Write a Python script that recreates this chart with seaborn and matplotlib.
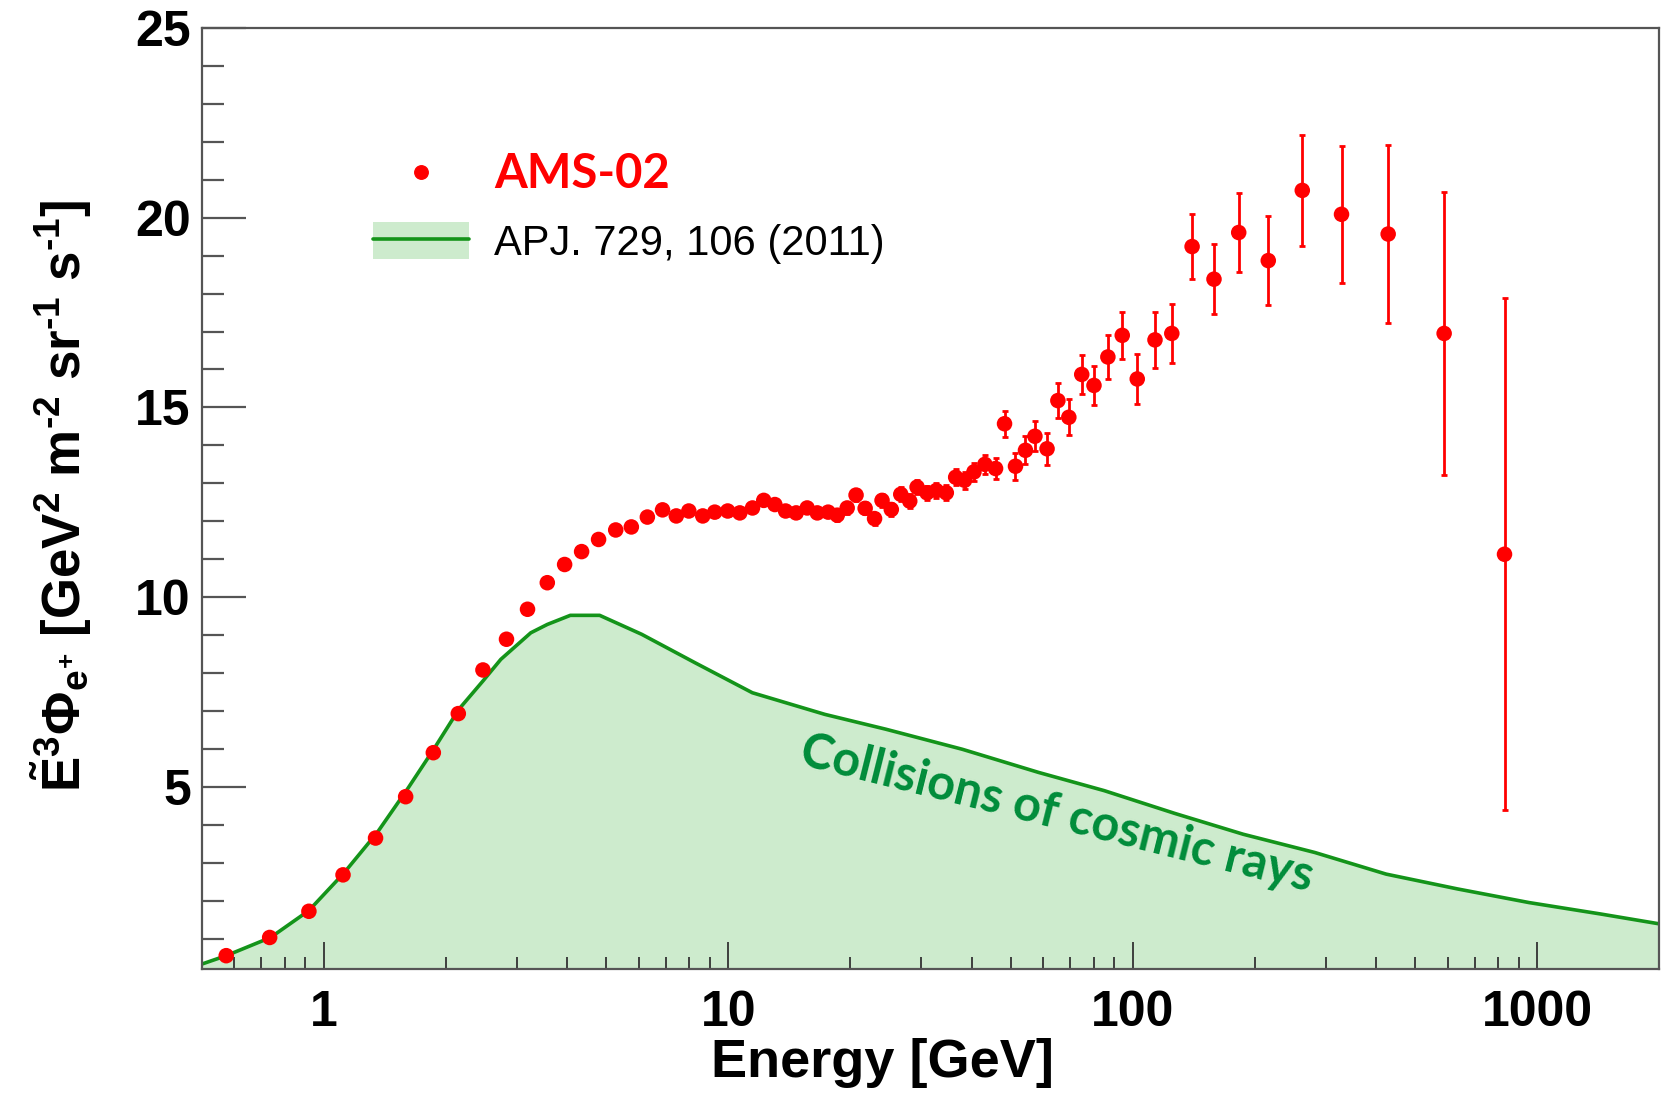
import numpy as np
import pandas as pd
import matplotlib
matplotlib.use("Agg")
import matplotlib.pyplot as plt
import seaborn as sns
from matplotlib.lines import Line2D
from matplotlib.patches import Patch
from matplotlib.ticker import FixedLocator, LogLocator, NullFormatter, FuncFormatter

# ---------------- data ----------------
ams_energy = [0.574, 0.735, 0.919, 1.116, 1.343, 1.594, 1.866, 2.151, 2.475, 2.83,
              3.19, 3.57, 3.94, 4.34, 4.78, 5.27, 5.76, 6.31, 6.88, 7.44,
              7.99, 8.65, 9.26, 9.97, 10.68, 11.48, 12.24, 13.04, 13.86, 14.72,
              15.67, 16.6, 17.66, 18.6, 19.68, 20.7, 21.8, 23.0, 24.0, 25.3,
              26.7, 28.1, 29.3, 31.0, 32.7, 34.6, 36.5, 38.4, 40.5, 43.1,
              45.8, 48.2, 51.3, 54.3, 57.3, 61.4, 65.3, 69.5, 74.8, 80.2,
              86.8, 94.2, 102.6, 113.5, 124.9, 140.2, 158.8, 182.8, 216.3, 262.5,
              328.2, 428.0, 588.6, 830.0]
ams_flux = [0.55, 1.03, 1.72, 2.68, 3.65, 4.74, 5.90, 6.93, 8.08, 8.89,
            9.68, 10.38, 10.86, 11.20, 11.52, 11.77, 11.85, 12.11, 12.30, 12.14,
            12.27, 12.14, 12.24, 12.27, 12.22, 12.35, 12.55, 12.44, 12.27, 12.22,
            12.35, 12.22, 12.24, 12.16, 12.35, 12.69, 12.34, 12.07, 12.55, 12.31,
            12.71, 12.53, 12.90, 12.75, 12.81, 12.75, 13.16, 13.08, 13.30, 13.50,
            13.39, 14.57, 13.45, 13.87, 14.24, 13.91, 15.18, 14.74, 15.87, 15.58,
            16.33, 16.90, 15.75, 16.78, 16.95, 19.24, 18.38, 19.61, 18.87, 20.72,
            20.09, 19.57, 16.95, 11.13]
ams_err = [0.05, 0.05, 0.05, 0.05, 0.06, 0.06, 0.07, 0.07, 0.08, 0.08,
           0.09, 0.09, 0.10, 0.10, 0.10, 0.10, 0.10, 0.10, 0.11, 0.11,
           0.11, 0.11, 0.12, 0.12, 0.12, 0.12, 0.13, 0.13, 0.13, 0.13,
           0.14, 0.14, 0.14, 0.15, 0.15, 0.15, 0.16, 0.16, 0.17, 0.17,
           0.18, 0.18, 0.19, 0.19, 0.20, 0.20, 0.21, 0.22, 0.24, 0.25,
           0.27, 0.34, 0.36, 0.37, 0.40, 0.42, 0.46, 0.48, 0.52, 0.51,
           0.58, 0.62, 0.66, 0.74, 0.77, 0.86, 0.92, 1.03, 1.17, 1.46,
           1.81, 2.34, 3.73, 6.75]

model_energy = [0.5, 0.574, 0.739, 0.919, 1.12, 1.357, 1.61, 1.87, 2.16, 2.475,
                2.74, 3.25, 3.57, 4.07, 4.81, 6.11, 8.28, 11.47, 17.33, 24.5,
                37.9, 58.5, 85.0, 127.0, 187.6, 281.8, 423.0, 634.6, 954.0, 1432.0, 2000.0]
model_flux = [0.33, 0.55, 1.03, 1.74, 2.72, 3.80, 4.94, 5.99, 7.05, 7.79,
              8.36, 9.06, 9.28, 9.52, 9.52, 9.02, 8.27, 7.48, 6.91, 6.52,
              5.99, 5.38, 4.90, 4.30, 3.75, 3.27, 2.70, 2.31, 1.95, 1.65, 1.39]

x_ticks = [1, 10, 100, 1000]
x_tick_labels = ["1", "10", "100", "1000"]
y_ticks = [5, 10, 15, 20, 25]
y_tick_labels = ["5", "10", "15", "20", "25"]

ams_label = "AMS-02"
model_label = "APJ. 729, 106 (2011)"
annotation = "Collisions of cosmic rays"
x_title = "Energy [GeV]"
y_title = (r"$\tilde{E}^{3}\Phi_{e^{+}}$ [GeV$^{2}$ m$^{\text{-}2}$ sr$^{\text{-}1}$ s$^{\text{-}1}$]")

ams = pd.DataFrame({"E": ams_energy, "flux": ams_flux, "err": ams_err})
model = pd.DataFrame({"E": model_energy, "flux": model_flux})

# ---------------- style ----------------
sns.set_theme(style="white")
plt.rcParams["font.family"] = ["Liberation Sans", "DejaVu Sans"]
plt.rcParams["text.color"] = "black"
plt.rcParams["axes.labelcolor"] = "black"
plt.rcParams["xtick.color"] = "black"
plt.rcParams["ytick.color"] = "black"
plt.rcParams["mathtext.fontset"] = "custom"
plt.rcParams["mathtext.rm"] = "Liberation Sans:bold"
plt.rcParams["mathtext.bf"] = "Liberation Sans:bold"
plt.rcParams["mathtext.it"] = "Liberation Sans:bold"
plt.rcParams["mathtext.sf"] = "Liberation Sans:bold"

RED = "#ff0000"
GREEN_LINE = "#14941a"
GREEN_FILL = "#cdebcd"
GREEN_TEXT = "#008c3a"
SPINE = "#555555"

fig = plt.figure(figsize=(16.61, 10.94), dpi=100)
ax = fig.add_axes([0.1216, 0.1143, 0.8772, 0.8601])
ax.set_axisbelow(False)

ax.set_xscale("log")
ax.set_xlim(0.5, 2000)
ax.set_ylim(0.2, 25)

# model band
ax.fill_between(model["E"], 0, model["flux"], color=GREEN_FILL, lw=0, zorder=1)
sns.lineplot(data=model, x="E", y="flux", ax=ax, color=GREEN_LINE, lw=2.6,
             zorder=2, legend=False)

# data
ax.errorbar(ams["E"], ams["flux"], yerr=ams["err"], fmt="none", ecolor=RED,
            elinewidth=2.0, capsize=2.5, capthick=2.0, zorder=3)
sns.scatterplot(data=ams, x="E", y="flux", ax=ax, color=RED, s=125,
                edgecolor="none", zorder=4, legend=False)

# ticks
ax.xaxis.set_major_locator(FixedLocator(x_ticks))
ax.xaxis.set_major_formatter(FuncFormatter(lambda v, p: x_tick_labels[x_ticks.index(int(round(v)))] if int(round(v)) in x_ticks else ""))
ax.xaxis.set_minor_locator(LogLocator(base=10, subs=np.arange(2, 10)))
ax.xaxis.set_minor_formatter(NullFormatter())
ax.yaxis.set_major_locator(FixedLocator(y_ticks))
ax.set_yticklabels(y_tick_labels)
ax.yaxis.set_minor_locator(FixedLocator(list(range(1, 26))))

ax.tick_params(axis="x", which="major", direction="in", length=19.5, width=1.3,
               color="#333333", labelsize=36, pad=15, bottom=True, top=False,
               labelcolor="black")
ax.tick_params(axis="x", which="minor", direction="in", length=8.6, width=1.3,
               color="#333333", bottom=True, top=False)
ax.tick_params(axis="y", which="major", direction="in", length=31.5, width=1.6,
               color=SPINE, labelsize=36, pad=8, left=True, right=False,
               labelcolor="black")
ax.tick_params(axis="y", which="minor", direction="in", length=15.6, width=1.6,
               color=SPINE, left=True, right=False)
for lab in ax.get_xticklabels() + ax.get_yticklabels():
    lab.set_fontweight("bold")

for s in ax.spines.values():
    s.set_color(SPINE)
    s.set_linewidth(1.6)
    s.set_zorder(5)

ax.set_xlabel(x_title, fontsize=39, fontweight="bold", color="black")
ax.xaxis.set_label_coords(0.467, -0.073)
ax.set_ylabel(y_title, fontsize=38, fontweight="bold", color="black")
ax.yaxis.set_label_coords(-0.074, 0.503)

# annotation
ax.text(64.8, 4.30, annotation, rotation=-14, rotation_mode="anchor",
        ha="center", va="center", fontsize=35, fontweight="bold",
        color=GREEN_TEXT, family=["Lato", "DejaVu Sans"], zorder=3)

# legend
h_ams = Line2D([], [], marker="o", color=RED, ls="none", markersize=9.7)
h_model = (Patch(facecolor=GREEN_FILL, edgecolor="none"),
           Line2D([], [], color=GREEN_LINE, lw=2.6))
leg = ax.legend([h_ams, h_model], [ams_label, model_label], loc="upper left",
                bbox_to_anchor=(0.1174, 0.868), frameon=False, fontsize=30,
                handlelength=2.3, handleheight=1.0, handletextpad=0.6,
                labelspacing=0.62, borderpad=0, borderaxespad=0)
t0, t1 = leg.get_texts()
t0.set_color(RED)
t0.set_fontweight("bold")
t0.set_family(["Lato", "DejaVu Sans"])
t0.set_fontsize(34)
t1.set_color("black")

fig.savefig("out.png", dpi=100)
